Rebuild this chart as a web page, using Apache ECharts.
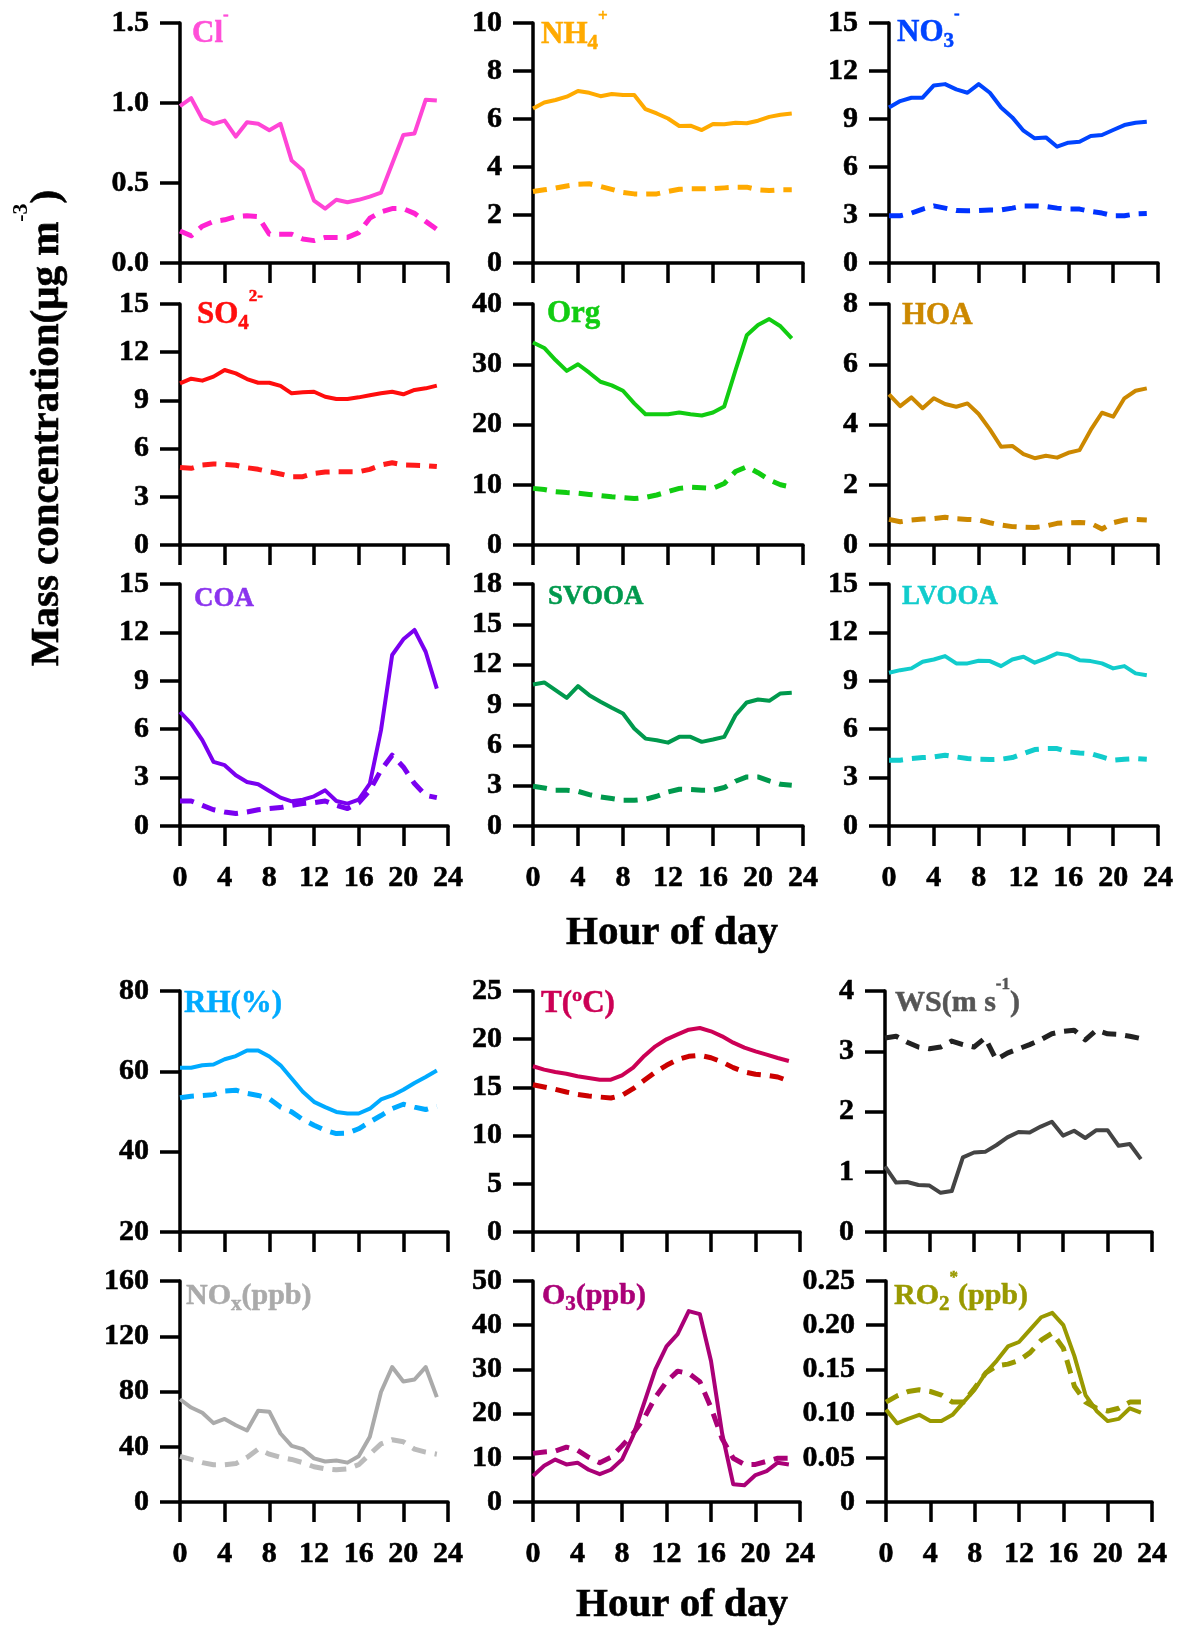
<!DOCTYPE html>
<html>
<head>
<meta charset="utf-8">
<script src="https://cdn.jsdelivr.net/npm/echarts@6/dist/echarts.min.js"></script>
<style>
html,body{margin:0;padding:0;background:#fff;}
#chart{width:1178px;height:1629px;}
</style>
</head>
<body>
<div id="chart"></div>
<script>
// ---------------- DATA ----------------
const hours = [0,1,2,3,4,5,6,7,8,9,10,11,12,13,14,15,16,17,18,19,20,21,22,23];
const xTicks = [0,4,8,12,16,20,24];

const clSolid  = [0.98,1.03,0.90,0.87,0.89,0.79,0.88,0.87,0.83,0.87,0.64,0.58,0.39,0.34,0.395,0.38,0.395,0.415,0.44,0.62,0.80,0.81,1.02,1.015];
const clDashed = [0.20,0.17,0.23,0.26,0.27,0.29,0.295,0.29,0.18,0.18,0.18,0.15,0.14,0.16,0.16,0.16,0.19,0.28,0.32,0.34,0.34,0.31,0.26,0.21];

const nh4Solid  = [6.44,6.69,6.79,6.93,7.17,7.09,6.95,7.04,7.0,7.0,6.41,6.23,6.02,5.71,5.72,5.54,5.79,5.78,5.84,5.82,5.93,6.09,6.18,6.23];
const nh4Dashed = [2.98,3.05,3.12,3.21,3.28,3.30,3.19,3.07,2.94,2.88,2.87,2.88,2.98,3.07,3.09,3.09,3.10,3.13,3.16,3.16,3.05,3.02,3.05,3.05];

const no3Solid  = [9.72,10.12,10.33,10.33,11.1,11.18,10.85,10.64,11.18,10.64,9.72,9.1,8.27,7.79,7.85,7.27,7.52,7.58,7.94,8.0,8.31,8.62,8.77,8.83];
const no3Dashed = [2.95,2.95,3.12,3.37,3.57,3.43,3.28,3.26,3.28,3.32,3.32,3.43,3.57,3.57,3.53,3.43,3.37,3.37,3.22,3.12,2.95,2.95,3.07,3.1];

const so4Solid  = [10.06,10.35,10.23,10.48,10.89,10.68,10.33,10.1,10.1,9.9,9.44,9.5,9.54,9.23,9.09,9.09,9.19,9.32,9.44,9.54,9.38,9.65,9.75,9.92];
const so4Dashed = [4.83,4.77,4.98,5.04,5.02,4.96,4.81,4.71,4.56,4.42,4.25,4.25,4.46,4.54,4.56,4.56,4.56,4.71,4.98,5.12,4.98,4.96,4.94,4.88];

const orgSolid  = [33.6,32.7,30.7,28.9,30.0,28.6,27.1,26.5,25.6,23.5,21.7,21.7,21.7,22.0,21.7,21.5,22.0,23.0,29.0,34.8,36.5,37.5,36.3,34.3];
const orgDashed = [9.4,9.2,8.85,8.7,8.6,8.4,8.2,8.0,7.85,7.7,7.9,8.3,8.85,9.4,9.6,9.5,9.4,10.2,12.2,13.0,12.0,10.8,10.0,9.6];

const hoaSolid  = [5.0,4.61,4.9,4.54,4.87,4.68,4.59,4.7,4.35,3.84,3.26,3.29,3.02,2.88,2.96,2.9,3.06,3.15,3.82,4.39,4.26,4.87,5.12,5.2];
const hoaDashed = [0.85,0.77,0.83,0.86,0.88,0.92,0.87,0.85,0.83,0.74,0.66,0.61,0.59,0.58,0.63,0.72,0.74,0.75,0.72,0.53,0.74,0.83,0.85,0.83];

const coaSolid  = [7.08,6.35,5.32,3.97,3.77,3.14,2.73,2.59,2.17,1.76,1.53,1.63,1.84,2.21,1.55,1.39,1.63,2.63,5.94,10.6,11.57,12.15,10.8,8.52];
const coaDashed = [1.55,1.55,1.28,1.01,0.87,0.77,0.87,1.01,1.08,1.14,1.28,1.39,1.45,1.55,1.28,1.08,1.43,2.21,3.46,4.39,3.66,2.63,1.90,1.76];

const svooaSolid  = [10.53,10.68,10.1,9.53,10.4,9.73,9.24,8.79,8.37,7.25,6.5,6.38,6.2,6.63,6.63,6.26,6.43,6.63,8.24,9.19,9.41,9.31,9.86,9.91];
const svooaDashed = [2.95,2.83,2.66,2.66,2.58,2.33,2.16,2.04,1.91,1.91,1.99,2.21,2.53,2.73,2.71,2.66,2.66,2.86,3.33,3.65,3.65,3.35,3.1,3.03];

const lvooaSolid  = [9.5,9.66,9.77,10.18,10.32,10.53,10.08,10.08,10.24,10.22,9.91,10.32,10.49,10.12,10.39,10.7,10.59,10.28,10.22,10.08,9.77,9.91,9.46,9.35];
const lvooaDashed = [4.08,4.08,4.18,4.24,4.28,4.39,4.28,4.18,4.14,4.12,4.14,4.24,4.49,4.74,4.8,4.8,4.59,4.53,4.49,4.28,4.08,4.14,4.18,4.14];

const rhSolid  = [60.9,60.9,61.5,61.7,63.0,63.8,65.2,65.2,63.7,61.5,58.2,54.9,52.4,51.1,49.9,49.5,49.5,50.7,53.0,54.0,55.4,57.1,58.6,60.2];
const rhDashed = [53.4,53.8,54.0,54.2,55.1,55.3,54.5,54.0,53.2,51.1,49.9,48.0,46.6,45.3,44.5,44.6,45.7,47.4,49.0,50.7,51.8,51.1,50.5,51.3];

const tSolid  = [17.19,16.84,16.6,16.42,16.15,15.97,15.8,15.8,16.25,17.05,18.26,19.26,19.99,20.5,20.99,21.16,20.82,20.3,19.64,19.12,18.74,18.4,18.05,17.74];
const tDashed = [15.28,15.04,14.8,14.52,14.28,14.11,14.0,13.9,14.18,14.87,15.73,16.6,17.29,17.88,18.22,18.33,18.08,17.63,17.05,16.6,16.36,16.25,16.08,15.66];

const wsSolid  = [1.09,0.82,0.83,0.78,0.77,0.65,0.68,1.24,1.32,1.33,1.44,1.57,1.66,1.65,1.75,1.83,1.6,1.68,1.56,1.69,1.69,1.43,1.46,1.21];
const wsDashed = [3.22,3.25,3.15,3.07,3.04,3.07,3.17,3.11,3.07,3.22,2.86,2.97,3.04,3.11,3.19,3.29,3.33,3.35,3.19,3.35,3.29,3.28,3.25,3.21];

const noxSolid  = [74.4,68.4,64.6,57.1,60.1,55.6,51.8,66.1,65.4,49.6,40.6,38.3,31.6,29.3,30.1,28.5,33.1,47.3,79.6,97.7,87.2,88.7,97.7,75.9];
const noxDashed = [33.1,30.8,28.5,27.0,27.0,27.8,32.3,38.3,34.6,32.3,30.8,28.5,25.5,24.0,23.3,24.0,27.0,34.6,42.1,45.1,43.6,38.3,36.1,34.6];

const o3Solid  = [5.9,8.2,9.6,8.5,8.9,7.3,6.3,7.3,9.6,15.0,22.5,30.0,35.2,38.0,43.2,42.5,31.9,15.5,4.0,3.8,6.1,7.0,8.9,8.5];
const o3Dashed = [11.0,11.3,11.5,12.4,11.7,10.1,8.9,10.1,12.7,15.5,19.0,23.7,27.2,29.6,29.1,27.2,21.4,14.3,9.9,8.5,8.5,9.2,9.9,9.9];

const ro2Solid  = [0.1045,0.089,0.094,0.0986,0.0915,0.0915,0.0986,0.113,0.127,0.146,0.160,0.176,0.181,0.195,0.209,0.214,0.200,0.165,0.121,0.103,0.0915,0.094,0.106,0.101];
const ro2Dashed = [0.113,0.120,0.125,0.127,0.125,0.121,0.113,0.113,0.129,0.146,0.154,0.156,0.160,0.169,0.183,0.191,0.174,0.131,0.113,0.106,0.103,0.106,0.113,0.113];

// panel titles (rich text) and y-axis ranges
const panelTitles = [
  '{m|Cl}{sup|-}', '{m|NH}{sub|4}{sup|+}', '{m|NO}{sub|3}{sup|-}',
  '{m|SO}{sub|4}{sup|2-}', '{m|Org}', '{m|HOA}',
  '{m|COA}', '{m|SVOOA}', '{m|LVOOA}',
  '{m|RH(%)}', '{m|T(ºC)}', '{m|WS(m s}{sup|-1}{m|)}',
  '{m|NO}{sub|x}{m|(ppb)}', '{m|O}{sub|3}{m|(ppb)}', '{m|RO}{sub|2}{sup|*}{m|(ppb)}'
];
const yMins      = [0,0,0, 0,0,0, 0,0,0, 20,0,0, 0,0,0];
const yMaxs      = [1.5,10,15, 15,40,8, 15,18,15, 80,25,4, 160,50,0.25];
const yIntervals = [0.5,2,3, 3,10,2, 3,3,3, 20,5,1, 40,10,0.05];
const yDecimals  = [1,0,0, 0,0,0, 0,0,0, 0,0,0, 0,0,2];
const yZeroAsInt = [false,true,true, true,true,true, true,true,true, true,true,true, true,true,true];
const solidSeries  = [clSolid,nh4Solid,no3Solid,so4Solid,orgSolid,hoaSolid,coaSolid,svooaSolid,lvooaSolid,rhSolid,tSolid,wsSolid,noxSolid,o3Solid,ro2Solid];
const dashedSeries = [clDashed,nh4Dashed,no3Dashed,so4Dashed,orgDashed,hoaDashed,coaDashed,svooaDashed,lvooaDashed,rhDashed,tDashed,wsDashed,noxDashed,o3Dashed,ro2Dashed];

// ---------------- STYLE / LAYOUT ----------------
const FF = "'Liberation Serif','Times New Roman',serif";
const solidColors  = ['#ff45d6','#ffaa00','#0044ff','#ff0d0d','#11cc11','#cc8800','#7a00f0','#00994d','#11cccc','#00aaff','#cc0055','#444444','#aaaaaa','#aa0077','#999900'];
const dashedColors = ['#ff22d2','#ffaa00','#0033ff','#ff1a1a','#11cc11','#cc8800','#7a00f0','#00994d','#11cccc','#00aaff','#cc0000','#222222','#bbbbbb','#aa0077','#999900'];
const titleColors  = ['#ff4fd8','#ffaa00','#0044ff','#ff0d0d','#11cc11','#cc8800','#8a33ee','#00994d','#11cccc','#00aaff','#cc0055','#555555','#aaaaaa','#aa0077','#999900'];
const titleSizes   = [31,31,31, 31,31,31, 27,27,27, 31,31,30, 30,30,30];
const titleLefts   = [192,541,897, 197,547,902, 194,548,902, 184,541,895, 186,542,894];
const titleCenters = [33.5,35,33, 315,314,316, 599,597,597, 1004,1004,1003, 1296,1296,1296];

const gridLefts  = [180,533,889, 180,533,889, 180,533,889, 180,533,885, 180,533,886];
const gridWidths = [268,270,269, 268,270,269, 268,270,269, 268,267,267, 268,267,266];
const rowTops    = [23,304,584,991,1281];
const rowHeights = [240,241,242,241,221];
const showXLabelRow = [false,false,true,false,true];

function richFor(color, size) {
  const b = {textBorderColor: color, textBorderWidth: 0.5};
  return {
    m:   Object.assign({fontFamily: FF, fontWeight: 'bold', fontSize: size, lineHeight: 60, color: color, verticalAlign: 'middle'}, b),
    sup: Object.assign({fontFamily: FF, fontWeight: 'bold', fontSize: 17, lineHeight: 17, color: color, verticalAlign: 'middle', padding: [0,0,36,0]}, b),
    sub: Object.assign({fontFamily: FF, fontWeight: 'bold', fontSize: 21, lineHeight: 21, color: color, verticalAlign: 'middle', padding: [18,0,0,0]}, b)
  };
}

const grids = [], xAxes = [], yAxes = [], series = [], titles = [];
const axisLineStyle = {color: '#000', width: 3.5};
const labelFont = {color: '#000', fontFamily: FF, fontWeight: 'bold', fontSize: 30, textBorderColor: '#000', textBorderWidth: 0.6};
for (let i = 0; i < 15; i++) {
  const row = Math.floor(i / 3);
  grids.push({left: gridLefts[i], top: rowTops[row], width: gridWidths[i], height: rowHeights[row], containLabel: false});
  xAxes.push({
    type: 'value', gridIndex: i, min: 0, max: 24, interval: 4,
    axisLine: {show: true, onZero: false, lineStyle: axisLineStyle},
    axisTick: {show: true, inside: false, length: 20, lineStyle: {color: '#000', width: 3.5}},
    splitLine: {show: false},
    axisLabel: Object.assign({show: showXLabelRow[row], margin: 37, showMinLabel: true, showMaxLabel: true,
                formatter: v => String(xTicks.find(t => Math.abs(t - v) < 1e-9) ?? v)}, labelFont)
  });
  const dec = yDecimals[i], zInt = yZeroAsInt[i];
  yAxes.push({
    type: 'value', gridIndex: i, min: yMins[i], max: yMaxs[i], interval: yIntervals[i],
    axisLine: {show: true, onZero: false, lineStyle: axisLineStyle},
    axisTick: {show: true, inside: false, length: 20, lineStyle: {color: '#000', width: 3.5}},
    splitLine: {show: false},
    axisLabel: Object.assign({margin: 31, showMinLabel: true, showMaxLabel: true,
                formatter: v => (zInt && Math.abs(v) < 1e-12) ? '0' : Number(v).toFixed(dec)}, labelFont)
  });
  series.push({
    type: 'line', xAxisIndex: i, yAxisIndex: i, showSymbol: false, symbol: 'none', silent: true, clip: true,
    data: hours.map((h, j) => [h, dashedSeries[i][j]]),
    lineStyle: {color: dashedColors[i], width: 5, type: [14, 9], cap: 'butt', join: 'round'}, z: 2
  });
  series.push({
    type: 'line', xAxisIndex: i, yAxisIndex: i, showSymbol: false, symbol: 'none', silent: true, clip: true,
    data: hours.map((h, j) => [h, solidSeries[i][j]]),
    lineStyle: {color: solidColors[i], width: 4, type: 'solid', join: 'round'}, z: 3
  });
  titles.push({
    text: panelTitles[i], left: titleLefts[i], top: titleCenters[i] - 30, padding: 0,
    textStyle: {fontFamily: FF, fontWeight: 'bold', fontSize: titleSizes[i], lineHeight: 60, color: titleColors[i],
                rich: richFor(titleColors[i], titleSizes[i])}
  });
}

const chart = echarts.init(document.getElementById('chart'), null, {renderer: 'canvas'});
chart.setOption({
  animation: false,
  backgroundColor: '#ffffff',
  title: titles,
  grid: grids,
  xAxis: xAxes,
  yAxis: yAxes,
  series: series,
  graphic: [
    {type: 'text', x: 47, y: 428, rotation: Math.PI / 2, silent: true,
     style: {text: '{m|Mass concentration(μg m}{sup|-3}{m|)}', align: 'center', verticalAlign: 'middle',
             rich: {
               m:   {fontFamily: FF, fontWeight: 'bold', fontSize: 41, lineHeight: 80, fill: '#000', verticalAlign: 'middle', stroke: '#000', lineWidth: 0.6},
               sup: {fontFamily: FF, fontWeight: 'bold', fontSize: 22, lineHeight: 22, fill: '#000', verticalAlign: 'middle', padding: [0,0,52,0]}
             }}},
    {type: 'text', x: 672, y: 933, silent: true,
     style: {text: 'Hour of day', fontFamily: FF, fontWeight: 'bold', fontSize: 41, fill: '#000', stroke: '#000', lineWidth: 0.6, align: 'center', verticalAlign: 'middle'}},
    {type: 'text', x: 682, y: 1605, silent: true,
     style: {text: 'Hour of day', fontFamily: FF, fontWeight: 'bold', fontSize: 41, fill: '#000', stroke: '#000', lineWidth: 0.6, align: 'center', verticalAlign: 'middle'}}
  ]
});
</script>
</body>
</html>
